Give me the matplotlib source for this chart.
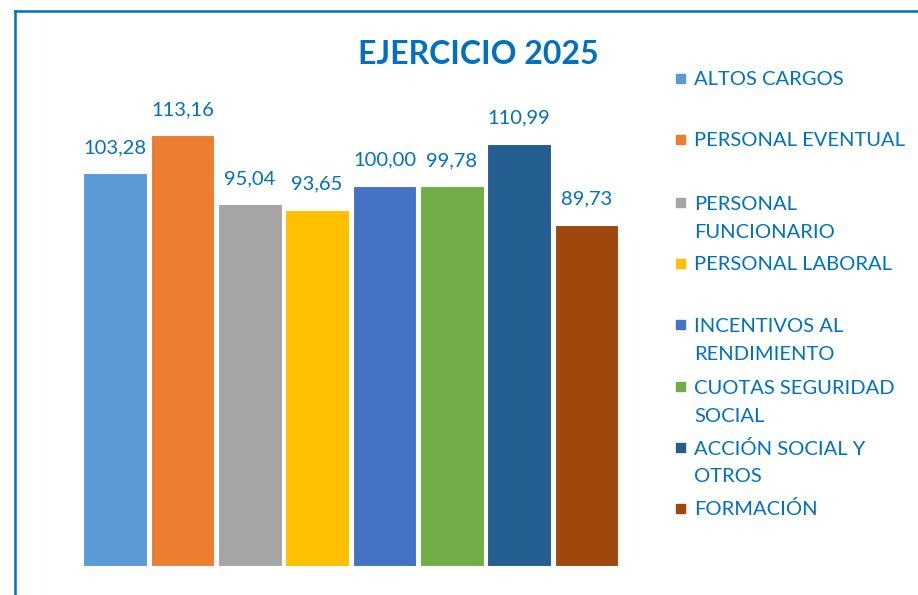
"""Bar chart: EJERCICIO 2025 by expense category."""

import matplotlib.pyplot as plt
from matplotlib.lines import Line2D
from matplotlib.patches import Rectangle

plt.rcParams["font.family"] = ["Lato", "DejaVu Sans"]

CATEGORIES = [
    "ALTOS CARGOS",
    "PERSONAL EVENTUAL",
    "PERSONAL\nFUNCIONARIO",
    "PERSONAL LABORAL",
    "INCENTIVOS AL\nRENDIMIENTO",
    "CUOTAS SEGURIDAD\nSOCIAL",
    "ACCIÓN SOCIAL Y\nOTROS",
    "FORMACIÓN",
]
VALUES = [103.28, 113.16, 95.04, 93.65, 100.00, 99.78, 110.99, 89.73]
COLORS = ["#5B9BD5", "#ED7D31", "#A5A5A5", "#FFC000",
          "#4472C4", "#70AD47", "#255E91", "#9E480E"]
TITLE = "EJERCICIO 2025"

TEXT_BLUE = "#0070C0"
W, H = 918, 595

fig = plt.figure(figsize=(W / 100, H / 100), dpi=100)
ax = fig.add_axes([74.6 / W, 29 / H, 552.4 / W, 532.7 / H])

x = range(len(VALUES))
bars = ax.bar(x, VALUES, width=0.943, color=COLORS, edgecolor="white", linewidth=0.8)
for rect, v in zip(bars, VALUES):
    ax.annotate(f"{v:.2f}".replace(".", ","),
                (rect.get_x() + rect.get_width() / 2, rect.get_height()),
                xytext=(0, 14.3), textcoords="offset points",
                ha="center", va="baseline", fontsize=14.5, color=TEXT_BLUE)

ax.set_xlim(-0.6, 7.6)
ax.set_ylim(0, 140)
ax.axis("off")

fig.text(478 / W, 1 - 55 / H, TITLE, ha="center", va="center",
         fontsize=23, fontweight="bold", color=TEXT_BLUE)

# legend drawn by hand so the marker sits on the first text line
legend_y = [78, 139, 202, 263, 324, 386, 447, 508]
line_gap = 28.5
for label, color, yy in zip(CATEGORIES, COLORS, legend_y):
    n_lines = label.count("\n") + 1
    fig.add_artist(Rectangle((676 / W, 1 - (yy + 4.5) / H), 9 / W, 9 / H,
                             transform=fig.transFigure, color=color))
    # baseline of the last line
    base = yy + 7 + line_gap * (n_lines - 1)
    fig.text(694 / W, 1 - base / H, label, ha="left", va="baseline",
             fontsize=14.5, color=TEXT_BLUE, linespacing=1.74)

# chart frame, cropped at right and bottom
fig.add_artist(Line2D([15.3 / W, 15.3 / W], [0, 1 - 11.3 / H],
                      transform=fig.transFigure, color=TEXT_BLUE, linewidth=1.8))
fig.add_artist(Line2D([15.3 / W, 1], [1 - 11.3 / H, 1 - 11.3 / H],
                      transform=fig.transFigure, color=TEXT_BLUE, linewidth=1.8))

fig.savefig("out.png", dpi=100)
